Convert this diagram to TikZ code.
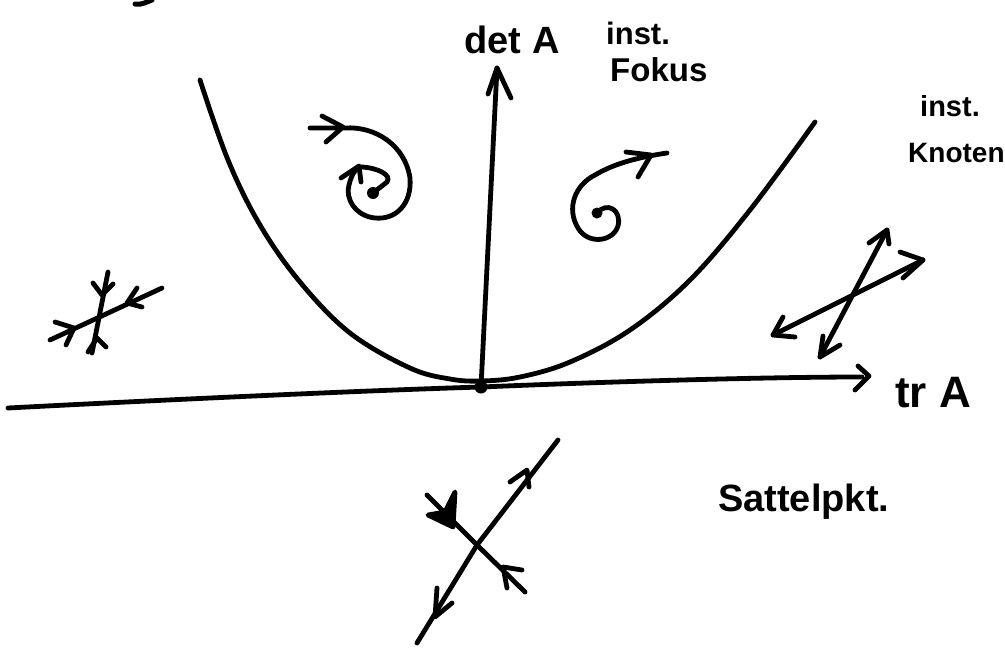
\documentclass[tikz,border=0pt]{standalone}
\usepackage{fontspec}
\setmainfont{Liberation Sans}
\begin{document}
\begin{tikzpicture}[x=1pt,y=-1pt,
  ink/.style={line width=4.8pt,line cap=round,line join=round,black},
  chev/.style={ink},
  lbl/.style={inner sep=0pt,text=black,font=\bfseries}]
\useasboundingbox (0,0) rectangle (1005,648);
% fragment at top
\draw[ink,line width=5pt] (135,4) to[out=-10,in=200] (152,0);
% axes
\coordinate (O) at (481,387);
\coordinate (xend) at (862,377);
\coordinate (yend) at (497,68);
\draw[ink] (8,408) .. controls (200,398) and (380,390) .. (O) .. controls (600,382) and (760,377) .. (xend);
\draw[chev] (858,366) -- (869,376) -- (855,390);
\draw[ink] (O) -- (yend);
\draw[chev] (488,94) -- (yend) -- (511,98);
\fill (O) circle (6.5pt);
% parabola
\draw[ink] plot[smooth,tension=0.6] coordinates {(200,80) (228,160) (260,225) (300,282) (350,333) (410,368) (450,379) (481,381) (520,377) (570,362) (630,330) (690,280) (750,210) (815,122)};
% labels
\node[lbl,font=\bfseries\fontsize{38}{38}\selectfont] (detA) at (512,40) {det A};
\node[lbl,font=\bfseries\fontsize{31}{31}\selectfont,anchor=west] (inst1) at (606,33) {inst.};
\node[lbl,font=\bfseries\fontsize{33}{33}\selectfont,anchor=west] (fokus) at (610,70) {Fokus};
\node[lbl,font=\bfseries\fontsize{29}{29}\selectfont,anchor=west] (inst2) at (920,106) {inst.};
\node[lbl,font=\bfseries\fontsize{28}{28}\selectfont,anchor=west] (knoten) at (908,153) {Knoten};
\node[lbl,font=\bfseries\fontsize{44}{44}\selectfont,anchor=west] (trA) at (895,393) {tr A};
\node[lbl,font=\bfseries\fontsize{38}{38}\selectfont,anchor=west] (sattel) at (718,502) {Sattelpkt.};
% left spiral (stable focus)
\draw[ink] (310,128) -- (345,128) .. controls (375,126) and (405,145) .. (410,178)
  .. controls (412,205) and (395,220) .. (375,218)
  .. controls (355,216) and (345,198) .. (349,185)
  .. controls (352,172) and (358,166) .. (362,167)
  .. controls (378,168) and (392,175) .. (387,182) -- (373,193);
\draw[chev] (322,116) -- (343,127) -- (326,142);
\draw[chev] (341,178) -- (359,166) -- (361,182);
\fill (373,193) circle (6pt);
% right spiral (unstable focus)
\fill (597,213) circle (5.5pt);
\draw[ink] (597,213) .. controls (607,201) and (622,210) .. (618,226)
  .. controls (613,242) and (588,245) .. (578,228)
  .. controls (566,208) and (575,185) .. (595,175)
  .. controls (615,163) and (640,157) .. (667,153);
\draw[chev] (626,152) -- (651,155) -- (638,177);
% left: stable node
\coordinate (n1a) at (50,340); \coordinate (n1b) at (162,288);
\coordinate (n2a) at (108,272); \coordinate (n2b) at (92,353);
\draw[ink] (n1a) -- (n1b);
\draw[ink] (n2a) -- (n2b);
\draw[chev] (55,322) -- (74,328) -- (66,345);
\draw[chev] (137,288) -- (127,303) -- (142,307);
\draw[chev] (93,283) -- (102,295) -- (113,284);
\draw[chev] (88,352) -- (97,338) -- (106,347);
% right: unstable node
\coordinate (m1a) at (773,335); \coordinate (m1b) at (923,260);
\coordinate (m2a) at (820,357); \coordinate (m2b) at (887,230);
\draw[ink] (m1a) -- (m1b);
\draw[ink] (m2a) -- (m2b);
\draw[chev] (783,317) -- (m1a) -- (795,337);
\draw[chev] (900,252) -- (m1b) -- (903,278);
\draw[chev] (869,243) -- (m2b) -- (889,244);
\draw[chev] (823,336) -- (m2a) -- (840,345);
% saddle
\coordinate (c) at (477,545);
\coordinate (s1a) at (417,643); \coordinate (s1b) at (558,440);
\coordinate (s2a) at (427,495); \coordinate (s2b) at (525,592);
\draw[ink] (s1a) -- (c) -- (s1b);
\draw[ink] (s2a) -- (c) -- (s2b);
\draw[chev] (510,482) -- (527,470) -- (529,487);
\draw[chev] (437,588) -- (435,617) -- (452,603);
\draw[ink,fill=black] (455,492) -- (453,527) -- (428,515) -- (445,512) -- cycle;
\draw[chev] (522,570) -- (503,567) -- (507,588);
\end{tikzpicture}
\end{document}
